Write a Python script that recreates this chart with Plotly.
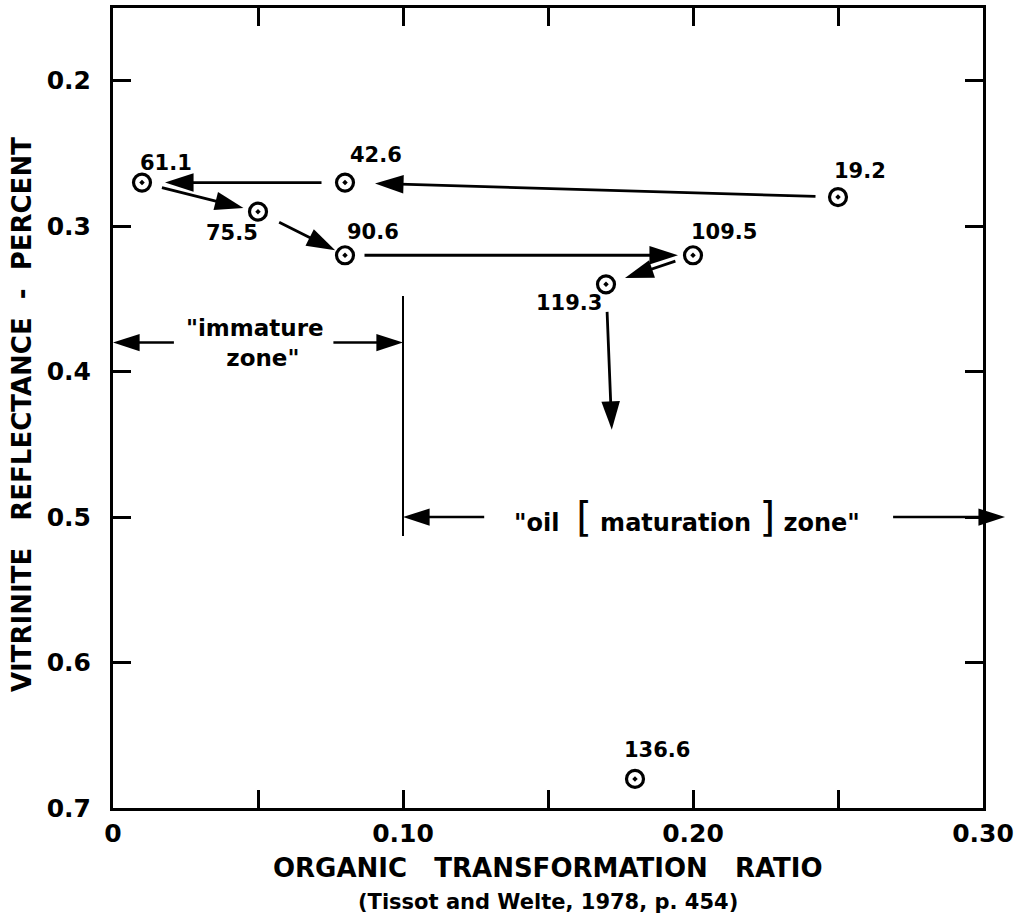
import plotly.graph_objects as go

# ---- data ----
depth_labels = ["19.2", "42.6", "61.1", "75.5", "90.6", "109.5", "119.3", "136.6"]
transformation_ratio = [0.25, 0.08, 0.01, 0.05, 0.08, 0.20, 0.17, 0.18]
vitrinite_reflectance = [0.28, 0.27, 0.27, 0.29, 0.32, 0.32, 0.34, 0.68]

# end of the downward arrow after 119.3
trend_end_x = 0.172
trend_end_y = 0.44

# zone boundary
boundary_x = 0.10
boundary_y = [0.348, 0.513]
immature_y = 0.38
immature_arrows = [(0.021, 0.0), (0.076, 0.10)]
oil_y = 0.50
oil_arrows = [(0.128, 0.10), (0.269, 0.3076)]

x_tickvals = [0, 0.05, 0.10, 0.15, 0.20, 0.25, 0.30]
x_ticktext = ["0", "", "0.10", "", "0.20", "", "0.30"]
y_tickvals = [0.2, 0.3, 0.4, 0.5, 0.6, 0.7]
y_ticktext = ["0.2", "0.3", "0.4", "0.5", "0.6", "0.7"]

X_MAX = 0.30

# ---- styles ----
FONT = "DejaVu Sans"
label_shift = [(22, 26), (31, 28), (24, 20), (-26, -21), (28, 23), (31, 23), (-37, -19), (22, 29)]
arrow_gaps = [(21, 30), (22, 23), (19, 15), (22, 11), (18, 15), (17, 20), (26, 0)]
HEAD = 30

# plot geometry in pixels
W, H = 1029, 917
ML, MR, MT, MB = 113, 14, 8, 109
PLOT_W = 870                       # width of the framed area
FULL_W = W - ML - MR               # width including the overflow strip on the right
x_dom_end = PLOT_W / FULL_W
X2_MAX = X_MAX * FULL_W / PLOT_W   # overflow axis keeps the same scale

fig = go.Figure()

# zone boundary line
fig.add_trace(go.Scatter(x=[boundary_x, boundary_x], y=boundary_y, mode="lines",
                         line=dict(color="black", width=2), showlegend=False, hoverinfo="skip"))

# zone arrows (drawn on the overflow axis so the right one may pass the frame)
for (tail, tip), yy in [(a, immature_y) for a in immature_arrows] + [(a, oil_y) for a in oil_arrows]:
    fig.add_trace(go.Scatter(x=[tail, tip], y=[yy, yy], mode="lines+markers",
                             xaxis="x2", yaxis="y",
                             line=dict(color="black", width=2.5),
                             marker=dict(symbol="arrow", angleref="previous", size=[0, HEAD - 2],
                                         color="black", opacity=1, line=dict(width=0)),
                             cliponaxis=False, showlegend=False, hoverinfo="skip"))

# arrow shafts
path_x = transformation_ratio[:7] + [trend_end_x]
path_y = vitrinite_reflectance[:7] + [trend_end_y]
for i, (g0, g1) in enumerate(arrow_gaps):
    fig.add_annotation(x=path_x[i + 1], y=path_y[i + 1], ax=path_x[i], ay=path_y[i],
                       xref="x", yref="y", axref="x", ayref="y", text="",
                       showarrow=True, arrowhead=0, arrowwidth=2.8, arrowcolor="black",
                       startstandoff=g0, standoff=g1 + 8)

# arrow heads
fig.add_trace(go.Scatter(x=path_x, y=path_y, mode="markers",
                         marker=dict(symbol="arrow", angleref="previous",
                                     size=[0] + [HEAD] * 7,
                                     standoff=[0] + [g[1] for g in arrow_gaps],
                                     color="black", opacity=1, line=dict(width=0)),
                         showlegend=False, hoverinfo="skip"))

# data points
fig.add_trace(go.Scatter(x=transformation_ratio, y=vitrinite_reflectance, mode="markers",
                         marker=dict(symbol="circle-open-dot", size=17, color="black", opacity=1,
                                     line=dict(width=3.2, color="black")),
                         showlegend=False))

# point labels
for lab, xx, yy, (dx, dy) in zip(depth_labels, transformation_ratio, vitrinite_reflectance, label_shift):
    fig.add_annotation(x=xx, y=yy, xref="x", yref="y", text=lab, showarrow=False,
                       xshift=dx, yshift=dy,
                       font=dict(family=FONT, size=21, color="black", weight="bold"))

# zone labels
NB = "\u00a0"
fig.add_annotation(x=0.049, y=immature_y, xref="x", yref="y",
                   text=f"\"immature<br>{NB*2}zone\"", showarrow=False, align="center",
                   font=dict(family=FONT, size=23, color="black", weight="bold"))
fig.add_annotation(x=0.198, y=oil_y, xref="x", yref="y",
                   text=f"\"oil{NB*2}<span style='font-size:40px;font-weight:normal'>[</span>{NB}maturation{NB}"
                        f"<span style='font-size:40px;font-weight:normal'>]</span>{NB}zone\"",
                   showarrow=False,
                   font=dict(family=FONT, size=24, color="black", weight="bold"))

# axis titles
fig.add_annotation(xref="paper", yref="paper", x=0, y=0.5, xshift=-91, yshift=-7,
                   text=f"VITRINITE{NB*3}REFLECTANCE{NB*2}-{NB*2}PERCENT", textangle=-90,
                   showarrow=False, xanchor="center", yanchor="middle",
                   font=dict(family=FONT, size=26, color="black", weight="bold"))
fig.add_annotation(xref="paper", yref="paper", x=(PLOT_W / 2) / FULL_W, y=0, yshift=-60,
                   text=f"ORGANIC{NB*3}TRANSFORMATION{NB*3}RATIO",
                   showarrow=False, xanchor="center", yanchor="middle",
                   font=dict(family=FONT, size=26, color="black", weight="bold"))
fig.add_annotation(xref="paper", yref="paper", x=(PLOT_W / 2) / FULL_W, y=0, yshift=-94,
                   text="(Tissot and Welte, 1978, p. 454)",
                   showarrow=False, xanchor="center", yanchor="middle",
                   font=dict(family=FONT, size=21, color="black", weight="bold"))

fig.update_layout(
    width=W, height=H,
    margin=dict(l=ML, r=MR, t=MT, b=MB, autoexpand=False),
    paper_bgcolor="white", plot_bgcolor="rgba(0,0,0,0)",
    xaxis=dict(domain=[0, x_dom_end], range=[0, X_MAX], tickvals=x_tickvals, ticktext=x_ticktext,
               ticks="inside", ticklen=18, tickwidth=2.5, tickcolor="black",
               showline=True, linewidth=3, linecolor="black", mirror="ticks",
               showgrid=False, zeroline=False, ticklabelstandoff=1, automargin=False,
               tickfont=dict(family=FONT, size=25, color="black", weight="bold")),
    xaxis2=dict(domain=[0, 1], range=[0, X2_MAX], anchor="y", visible=False,
                showgrid=False, zeroline=False, automargin=False),
    yaxis=dict(range=[0.7, 0.15], tickvals=y_tickvals, ticktext=y_ticktext,
               ticks="inside", ticklen=18, tickwidth=2.5, tickcolor="black",
               showline=True, linewidth=3, linecolor="black", mirror="ticks",
               showgrid=False, zeroline=False, ticklabelstandoff=14, automargin=False,
               tickfont=dict(family=FONT, size=25, color="black", weight="bold")),
)

fig.write_html("out.html")
